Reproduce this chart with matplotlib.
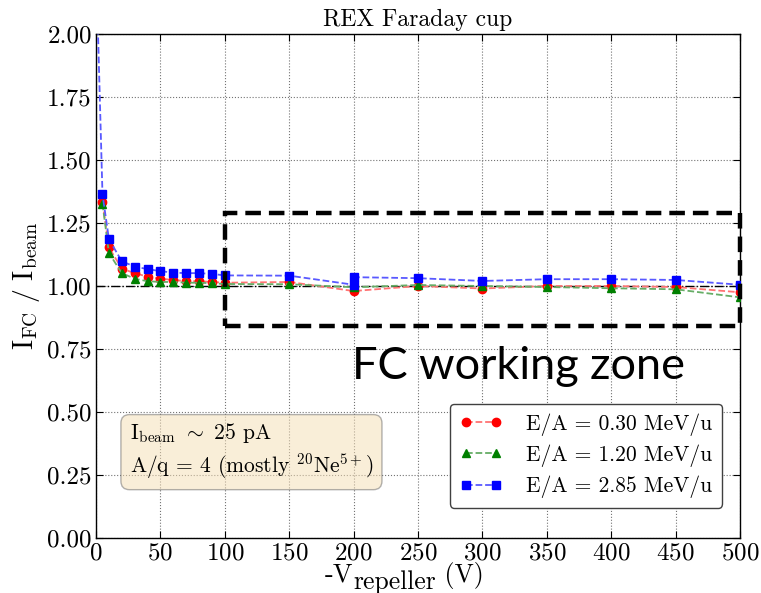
import matplotlib
matplotlib.use("Agg")
import matplotlib.pyplot as plt
from matplotlib.patches import Rectangle
from matplotlib.transforms import IdentityTransform

plt.rcParams['font.family'] = 'serif'
plt.rcParams['font.serif'] = ['cmr10']
plt.rcParams['mathtext.fontset'] = 'cm'
plt.rcParams['axes.formatter.use_mathtext'] = True
plt.rcParams['axes.unicode_minus'] = False

# Repeller voltage scans (V) and normalised Faraday cup current
v_030 = [5, 10, 20, 30, 40, 50, 60, 70, 80, 90, 100, 150, 200, 250, 300, 350, 400, 450, 500]
i_030 = [1.333, 1.153, 1.069, 1.051, 1.037, 1.029, 1.024, 1.019, 1.019, 1.016, 1.013,
         1.016, 0.980, 1.000, 0.990, 1.000, 1.000, 0.996, 0.975]

v_120 = [5, 10, 20, 30, 40, 50, 60, 70, 80, 90, 100, 150, 200, 250, 300, 350, 400, 450, 500]
i_120 = [1.327, 1.131, 1.051, 1.029, 1.019, 1.016, 1.016, 1.013, 1.013, 1.011, 1.008,
         1.007, 0.995, 1.004, 1.000, 0.996, 0.991, 0.987, 0.955]

v_285 = [1, 5, 10, 20, 30, 40, 50, 60, 70, 80, 90, 100, 150, 200, 200, 250, 300, 350,
         400, 450, 500]
i_285 = [2.10, 1.364, 1.186, 1.098, 1.077, 1.067, 1.059, 1.053, 1.051, 1.051, 1.048, 1.042,
         1.041, 1.005, 1.035, 1.031, 1.020, 1.027, 1.027, 1.024, 1.005]

labels = ['E/A = 0.30 MeV/u', 'E/A = 1.20 MeV/u', 'E/A = 2.85 MeV/u']

# Working zone of the cup: voltage range and current band
zone_v = (100, 500)
zone_i = (0.84, 1.29)

x_ticks = list(range(0, 501, 50))
y_ticks = [0.0, 0.25, 0.5, 0.75, 1.0, 1.25, 1.5, 1.75, 2.0]

fig = plt.figure(figsize=(7.61, 5.93), dpi=100)
ax = fig.add_axes([0.1262, 0.0927, 0.8462, 0.850])

series = [
    (v_030, i_030, 'o', (1.0, 0.0, 0.0), (1.0, 0.45, 0.45)),
    (v_120, i_120, '^', (0.0, 0.5, 0.0), (0.4, 0.68, 0.4)),
    (v_285, i_285, 's', (0.0, 0.0, 1.0), (0.35, 0.35, 1.0)),
]
for (vx, iy, mk, c, lc), lab in zip(series, labels):
    ax.plot(vx, iy, linestyle='--', color=lc, lw=1.3, marker=mk, ms=6,
            mfc=c, mec=c, label=lab, zorder=3)

ax.axhline(1.0, color='k', ls='-.', lw=1.0, zorder=2)

ax.add_patch(Rectangle((zone_v[0], zone_i[0]), zone_v[1] - zone_v[0], zone_i[1] - zone_i[0],
                       fill=False, ec='k', lw=3.2, ls=(0, (3.5, 1.8)), zorder=4,
                       clip_on=False))

ax.set_xlim(0, 500)
ax.set_ylim(0, 2.0)
ax.set_xticks(x_ticks)
ax.set_yticks(y_ticks)
ax.set_yticklabels(['%.2f' % t for t in y_ticks])
ax.tick_params(direction='in', top=True, right=True, length=5, labelsize=18, pad=3)
ax.grid(True, color='0.45', ls=':', lw=0.8)
for s in ax.spines.values():
    s.set_linewidth(1.0)

ax.set_title('REX Faraday cup', fontsize=17, pad=6)
ax.set_ylabel(r'$\mathrm{I_{FC}\ /\ I_{beam}}$', fontsize=20, labelpad=4)

# x label built from pieces so the subscript keeps a full-size font
renderer = fig.canvas.get_renderer()
pieces = [('-V', 19, 0), ('repeller', 18.5, -7), (' (V)', 18.5, 0)]
texts = []
for s, fs, dy in pieces:
    t = fig.text(0, 11 + dy, s, fontsize=fs, transform=IdentityTransform(),
                 va='baseline', ha='left')
    texts.append(t)
widths = [t.get_window_extent(renderer).width for t in texts]
x = 404 - sum(widths) / 2
for t, w in zip(texts, widths):
    t.set_x(x)
    x += w

ax.text(0.3975, 0.3155, 'FC working zone', transform=ax.transAxes, fontsize=32.5,
        family='Lato', va='baseline', ha='left', zorder=5)

ax.text(0.052, 0.113, r'I$_{\mathrm{beam}}$ $\sim$ 25 pA' + '\n' +
        r'A/q = 4 (mostly $^{20}$Ne$^{5+}$)', transform=ax.transAxes, fontsize=15.5,
        va='bottom', ha='left', linespacing=1.3,
        bbox=dict(boxstyle='round,pad=0.4', fc='wheat', ec='0.4', alpha=0.5))

leg = ax.legend(loc='lower right', bbox_to_anchor=(0.972, 0.06), borderaxespad=0,
                fontsize=15.5, numpoints=2, fancybox=True, framealpha=1.0,
                edgecolor='0.25', handlelength=2.0, handletextpad=1.1,
                borderpad=0.45, labelspacing=0.4)
leg.get_frame().set_linewidth(1.0)

fig.savefig('out.png', dpi=100)
